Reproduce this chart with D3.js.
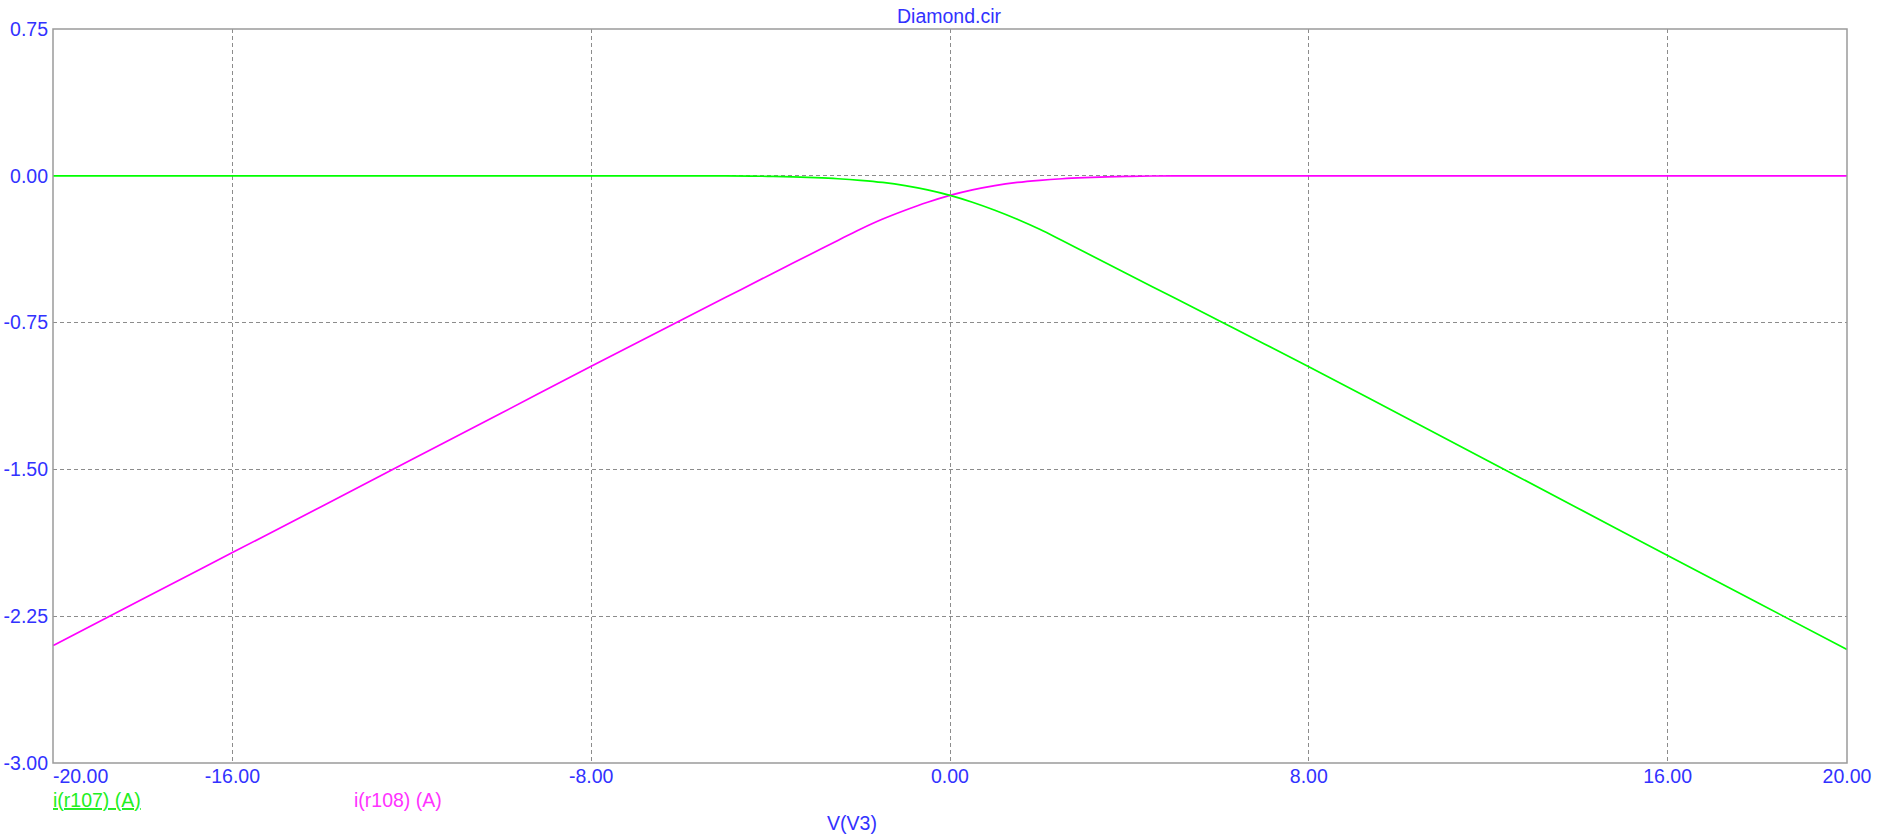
<!DOCTYPE html>
<html>
<head>
<meta charset="utf-8">
<script src="https://cdn.jsdelivr.net/npm/d3@7"></script>
<style>
  html, body { margin: 0; padding: 0; background: #ffffff; }
  svg { display: block; font-family: "Liberation Sans", Arial, sans-serif; }
</style>
</head>
<body>
<svg id="chart" width="1885" height="840"></svg>
<script>
// ---- data ----
const title = "Diamond.cir";
const xLabel = "V(V3)";
const voltages = [-20, -18, -16, -14, -12, -10, -8, -7, -6, -5, -4, -3.5, -3, -2.5, -2, -1.5, -1, -0.5, 0,
                  0.5, 1, 1.5, 2, 2.5, 3, 3.5, 4, 4.5, 5, 6, 7, 8, 10, 12, 14, 16, 18, 20];
const iR107 = [0, 0, 0, 0, 0, 0, 0, 0, 0, 0, -0.003, -0.0055, -0.0095, -0.015, -0.023, -0.034, -0.050, -0.072, -0.100,
               -0.135, -0.176, -0.222, -0.2735, -0.331, -0.3895, -0.448, -0.5065, -0.565, -0.6235, -0.7405, -0.8575, -0.975,
               -1.216, -1.457, -1.698, -1.940, -2.180, -2.420];
const iR108 = [-2.400, -2.162, -1.925, -1.688, -1.450, -1.212, -0.973, -0.855, -0.738, -0.621, -0.504, -0.446, -0.388, -0.330, -0.273, -0.221, -0.176, -0.135, -0.100,
               -0.072, -0.050, -0.034, -0.023, -0.015, -0.0095, -0.0055, -0.003, -0.001, 0, 0, 0, 0,
               0, 0, 0, 0, 0, 0];
const xTicks = [-20, -16, -8, 0, 8, 16, 20];
const xGrid = [-16, -8, 0, 8, 16];
const yTicks = [0.75, 0, -0.75, -1.5, -2.25, -3];
const yGrid = [0, -0.75, -1.5, -2.25];
const seriesNames = ["i(r107) (A)", "i(r108) (A)"];

// ---- layout ----
const svg = d3.select("#chart");
const pLeft = 53, pTop = 29, pRight = 1847, pBottom = 763;
const x = d3.scaleLinear().domain([-20, 20]).range([pLeft, pRight]);
const y = d3.scaleLinear().domain([-3, 0.75]).range([pBottom, pTop]);
const blue = "#3232ff";
const f2 = d3.format(".2f");
const fmt = d => f2(d).replace("\u2212", "-");
const fontSize = "19.5px";

// grid
svg.append("g").selectAll("line").data(xGrid).join("line")
  .attr("x1", d => x(d)).attr("x2", d => x(d)).attr("y1", pTop).attr("y2", pBottom)
  .attr("stroke", "#8c8c8c").attr("stroke-width", 1).attr("stroke-dasharray", "4,3")
  .attr("shape-rendering", "crispEdges");
svg.append("g").selectAll("line").data(yGrid).join("line")
  .attr("x1", pLeft).attr("x2", pRight).attr("y1", d => y(d)).attr("y2", d => y(d))
  .attr("stroke", "#8c8c8c").attr("stroke-width", 1).attr("stroke-dasharray", "4,3")
  .attr("shape-rendering", "crispEdges");

// curves
const data1 = voltages.map((v, i) => [v, iR107[i]]);
const data2 = voltages.map((v, i) => [v, iR108[i]]);
const line = d3.line().x(d => x(d[0])).y(d => y(d[1])).curve(d3.curveMonotoneX);
svg.append("path").datum(data2).attr("d", line)
  .attr("fill", "none").attr("stroke", "#ff00ff").attr("stroke-width", 1.7);
svg.append("path").datum(data1).attr("d", line)
  .attr("fill", "none").attr("stroke", "#00ff00").attr("stroke-width", 1.7);

// frame
svg.append("rect").attr("x", pLeft).attr("y", pTop).attr("width", pRight - pLeft).attr("height", pBottom - pTop)
  .attr("fill", "none").attr("stroke", "#9a9a9a").attr("stroke-width", 1.5);

// y axis labels
const yAxis = svg.append("g").attr("transform", `translate(${pLeft},0)`)
  .call(d3.axisLeft(y).tickValues(yTicks).tickFormat(fmt).tickSize(0).tickPadding(5));
yAxis.select(".domain").remove();
yAxis.selectAll("text")
  .style("font-size", fontSize).style("fill", blue)
  .style("font-family", "'Liberation Sans', Arial, sans-serif");

// x tick labels: centred on their ticks, the first one shifted so it starts at the plot edge
svg.append("g").selectAll("text").data(xTicks).join("text")
  .attr("x", d => x(d))
  .attr("y", 783)
  .attr("text-anchor", "middle")
  .attr("font-size", fontSize).attr("fill", blue)
  .text(fmt)
  .each(function(d, i) {
    if (i === 0) {
      const w = this.getComputedTextLength();
      d3.select(this).attr("x", x(d) + w / 2);
    }
  });

// title
svg.append("text").attr("x", 949).attr("y", 23).attr("text-anchor", "middle")
  .attr("font-size", fontSize).attr("fill", blue).text(title);

// x axis label
svg.append("text").attr("x", 852).attr("y", 830).attr("text-anchor", "middle")
  .attr("font-size", fontSize).attr("fill", blue).text(xLabel);

// legend
svg.append("text").attr("x", 53).attr("y", 807).attr("font-size", fontSize)
  .attr("fill", "#22ee22").attr("text-decoration", "underline").text(seriesNames[0]);
svg.append("text").attr("x", 354).attr("y", 807).attr("font-size", fontSize)
  .attr("fill", "#ff33ff").text(seriesNames[1]);
</script>
</body>
</html>
